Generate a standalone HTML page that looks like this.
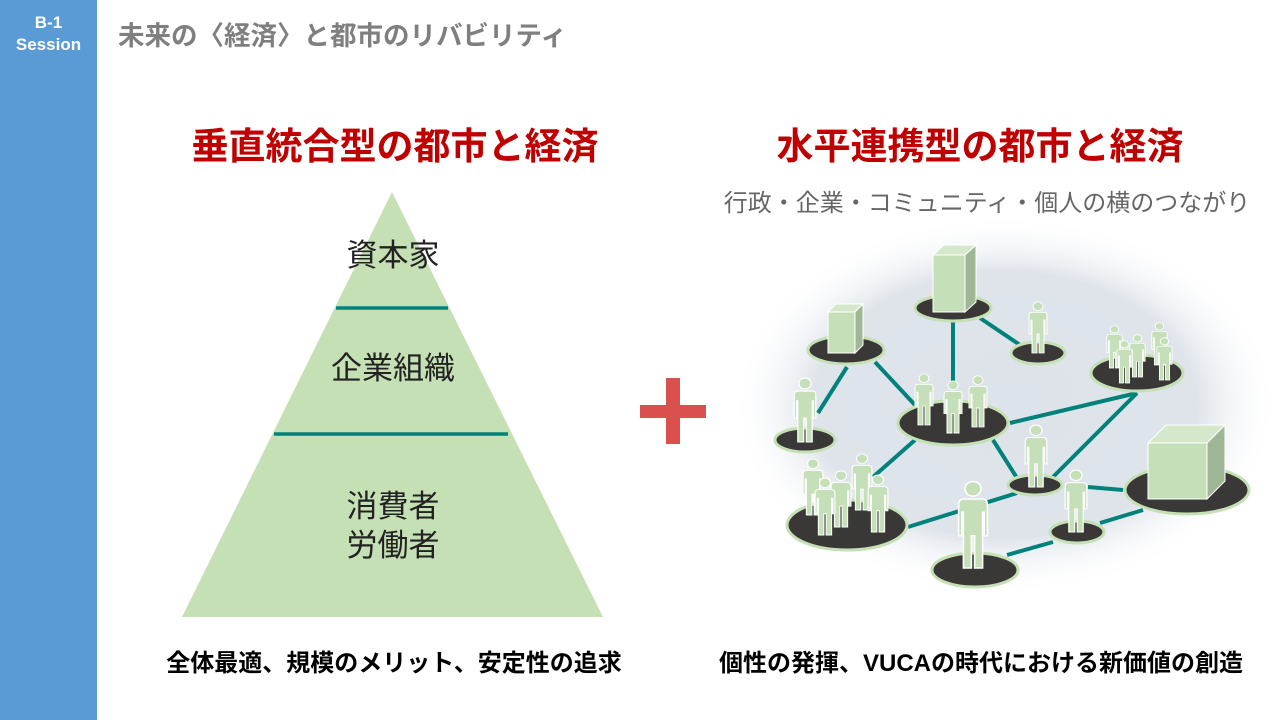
<!DOCTYPE html>
<html><head><meta charset="utf-8"><style>
body{margin:0;width:1280px;height:720px;background:#fff;position:relative;overflow:hidden;font-family:"Liberation Sans","Noto Sans CJK JP",sans-serif}
.side{position:absolute;left:0;top:0;width:97px;height:720px;background:#5b9bd5;color:#fff;font-weight:bold;font-size:17px;text-align:center;line-height:22px;padding-top:12px;box-sizing:border-box}
.t{position:absolute;white-space:nowrap}
</style></head><body>
<div class="side">B-1<br>Session</div>
<div class="t" style="left:118px;top:14px;font-size:26.5px;font-weight:bold;color:#7f7f7f">未来の〈経済〉と都市のリバビリティ</div>
<div class="t" style="left:0;width:790px;text-align:center;top:116px;font-size:37px;font-weight:bold;color:#c00000">垂直統合型の都市と経済</div>
<div class="t" style="left:700px;width:560px;text-align:center;top:116px;font-size:37px;font-weight:bold;color:#c00000">水平連携型の都市と経済</div>
<div class="t" style="left:700px;width:574px;text-align:center;top:183px;font-size:24px;color:#666">行政・企業・コミュニティ・個人の横のつながり</div>
<div class="t" style="left:0;width:788px;text-align:center;top:643px;font-size:24px;font-weight:bold;color:#000">全体最適、規模のメリット、安定性の追求</div>
<div class="t" style="left:700px;width:562px;text-align:center;top:643px;font-size:24px;font-weight:bold;color:#000">個性の発揮、VUCAの時代における新価値の創造</div>
<svg width="1280" height="720" style="position:absolute;left:0;top:0">
<defs>
<radialGradient id="g" cx="50%" cy="50%" r="50%"><stop offset="0" stop-color="#dde3ea"/><stop offset="0.7" stop-color="#dfe4eb"/><stop offset="1" stop-color="#fff" stop-opacity="0"/></radialGradient>
<symbol id="p" viewBox="-10 -60 20 60" overflow="visible" preserveAspectRatio="none"><circle cx="0" cy="-54" r="5" fill="#c5e0b8" stroke="#fff" stroke-width="1"/><path d="M-6,-47 L6,-47 Q9,-47 9,-43 L9,-22 L7,-22 L7,-38 L6,-38 L6,0 L1,0 L1,-22 L-1,-22 L-1,0 L-6,0 L-6,-38 L-7,-38 L-7,-22 L-9,-22 L-9,-43 Q-9,-47 -6,-47 Z" fill="#c5e0b8" stroke="#fff" stroke-width="1"/></symbol>
</defs>
<polygon points="392,192 182,617 603,617" fill="#c5e0b4"/>
<line x1="336" y1="308" x2="448" y2="308" stroke="#00827a" stroke-width="3.5"/>
<line x1="274" y1="434" x2="508" y2="434" stroke="#00827a" stroke-width="3.5"/>
<g font-size="31" text-anchor="middle" fill="#222" font-family="Liberation Sans,Noto Sans CJK JP,sans-serif">
<text x="393" y="266">資本家</text><text x="393" y="379">企業組織</text><text x="393" y="517">消費者</text><text x="393" y="556">労働者</text></g>
<rect x="640" y="405" width="66" height="13" fill="#d9504f"/><rect x="666" y="378" width="14" height="66" fill="#d9504f"/>
<ellipse cx="1005" cy="405" rx="275" ry="190" fill="url(#g)"/>
<g stroke="#00827a" stroke-width="4">
<line x1="953" y1="318" x2="953" y2="382"/><line x1="980" y1="318" x2="1020" y2="345"/>
<line x1="847" y1="367" x2="818" y2="413"/><line x1="875" y1="362" x2="915" y2="405"/>
<line x1="1010" y1="423" x2="1137" y2="393"/><line x1="1137" y1="393" x2="1053" y2="477"/>
<line x1="993" y1="440" x2="1017" y2="478"/><line x1="915" y1="440" x2="873" y2="477"/>
<line x1="908" y1="527" x2="1017" y2="493"/><line x1="1088" y1="487" x2="1123" y2="490"/>
<line x1="1007" y1="555" x2="1053" y2="542"/><line x1="1100" y1="523" x2="1143" y2="510"/>
</g>
<g fill="#3a3837" stroke="#c5e0b4" stroke-width="3">
<ellipse cx="953" cy="308" rx="38" ry="13"/><ellipse cx="846" cy="350" rx="38" ry="14"/>
<ellipse cx="1038" cy="353" rx="27" ry="11"/><ellipse cx="1137" cy="373" rx="46" ry="18"/>
<ellipse cx="805" cy="440" rx="30" ry="12"/><ellipse cx="953" cy="423" rx="55" ry="22"/>
<ellipse cx="1035" cy="485" rx="27" ry="10"/><ellipse cx="1187" cy="490" rx="62" ry="24"/>
<ellipse cx="847" cy="525" rx="60" ry="25"/><ellipse cx="975" cy="570" rx="43" ry="17"/>
<ellipse cx="1077" cy="532" rx="27" ry="11"/>
</g>
<g stroke="#fff" stroke-width="1">
<polygon points="933,255 944,245 976,245 965,255" fill="#d5e8cc"/><polygon points="965,255 976,245 976,302 965,312" fill="#9fb794"/><rect x="933" y="255" width="32" height="57" fill="#c5e0b8"/>
<polygon points="828,312 836,304 863,304 855,312" fill="#d5e8cc"/><polygon points="855,312 863,304 863,345 855,353" fill="#9fb794"/><rect x="828" y="312" width="27" height="41" fill="#c5e0b8"/>
<polygon points="1148,443 1166,425 1225,425 1207,443" fill="#d5e8cc"/><polygon points="1207,443 1225,425 1225,481 1207,499" fill="#9fb794"/><rect x="1148" y="443" width="59" height="56" fill="#c5e0b8"/>
</g>
<use href="#p" x="1028" y="301" width="20" height="52"/>
<use href="#p" x="793" y="377" width="24" height="65"/>
<use href="#p" x="914" y="373" width="20" height="52"/>
<use href="#p" x="943" y="380" width="20" height="53"/>
<use href="#p" x="968" y="375" width="20" height="52"/>
<use href="#p" x="1106" y="325" width="17" height="43"/>
<use href="#p" x="1151" y="322" width="17" height="43"/>
<use href="#p" x="1129" y="334" width="17" height="43"/>
<use href="#p" x="1116" y="340" width="17" height="43"/>
<use href="#p" x="1156" y="337" width="17" height="43"/>
<use href="#p" x="1024" y="424" width="24" height="63"/>
<use href="#p" x="1064" y="469" width="24" height="63"/>
<use href="#p" x="957" y="480" width="32" height="88"/>
<use href="#p" x="802" y="458" width="22" height="57"/>
<use href="#p" x="851" y="453" width="22" height="57"/>
<use href="#p" x="830" y="470" width="22" height="57"/>
<use href="#p" x="814" y="477" width="22" height="58"/>
<use href="#p" x="867" y="474" width="22" height="58"/>
</svg>
</body></html>
